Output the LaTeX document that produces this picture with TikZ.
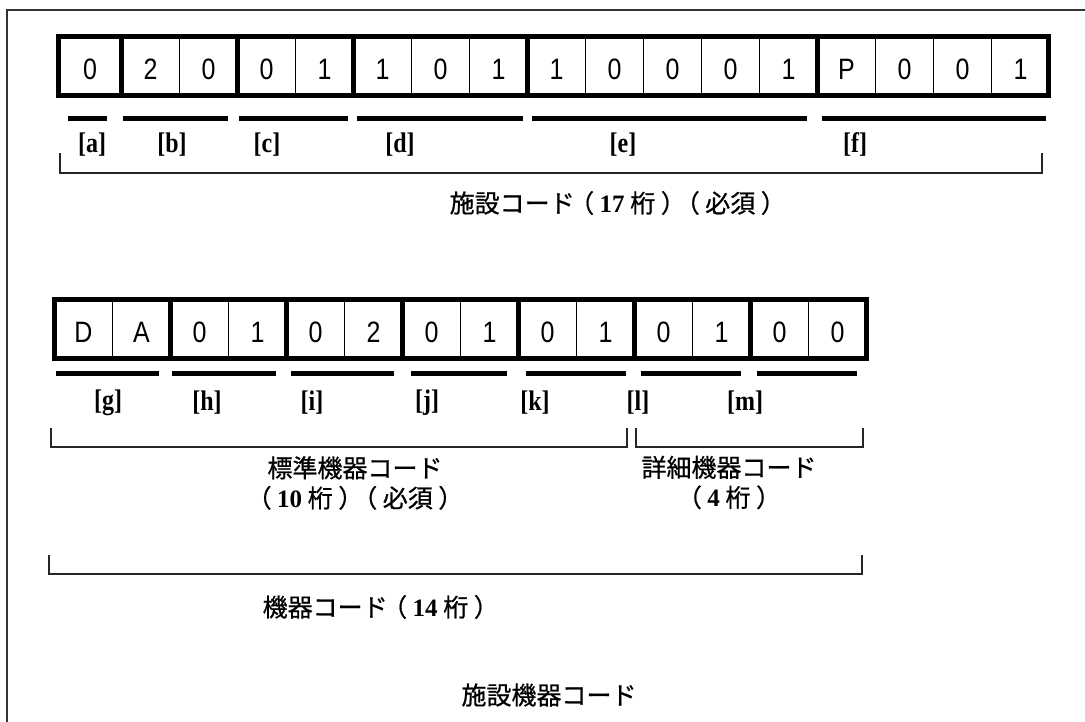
\documentclass[tikz,border=0pt]{standalone}
\usepackage{fontspec}
\usepackage{graphicx}
\setmainfont{Liberation Serif}
\newfontfamily\jp[FakeBold=0.7]{Noto Sans CJK JP}
\newfontfamily\dg{Liberation Sans}
\newcommand{\bn}[1]{{\rmfamily\bfseries #1}}
\newcommand{\lpar}{\hbox to 1em{\hskip-0.22em （\hss}}
\newcommand{\rpar}{\hbox to 1em{\hskip0.22em ）\hss}}
\newcommand{\tall}[1]{\scalebox{1}[1.18]{#1}}
\begin{document}
\begin{tikzpicture}[x=1pt,y=-1pt,
  frameline/.style={line width=2pt,draw=black!80},
  boxline/.style={line width=5pt,line join=miter},
  thinsep/.style={line width=1.5pt},
  thicksep/.style={line width=5pt},
  bar/.style={line width=5pt},
  brk/.style={line width=1.4pt,draw=black!85},
  digit/.style={font=\dg\fontsize{25}{25}\selectfont,anchor=base,inner sep=0pt},
  lbl/.style={font=\rmfamily\bfseries\fontsize{24}{24}\selectfont,inner sep=0pt},
  jt/.style={font=\jp\fontsize{25}{30}\selectfont,inner sep=0pt,align=center}]
\useasboundingbox (0,0) rectangle (1085,722);
\draw[frameline] (7,722) -- (7,10) -- (1085,10);

% ---- row 1 : facility code (17 digits)
\foreach \t [count=\i] in {0,2,0,0,1,1,0,1,1,0,0,0,1,P,0,0,1}{
  \pgfmathsetmacro\cx{\i==1 ? 90 : 92.5+58*(\i-1)}
  \node[digit] (a\i) at (\cx,80) {\tall{\t}};
}
\foreach \k in {1,...,16}{\draw[thinsep] (121.5+58*\k-58,37) -- (121.5+58*\k-58,96);}
\foreach \k in {1,3,5,8,13}{\draw[thicksep] (121.5+58*\k-58,37) -- (121.5+58*\k-58,96);}
\draw[boxline] (58.5,37) rectangle (1048,96);

\draw[bar] (68,118.5) -- (107,118.5);
\draw[bar] (123,118.5) -- (228,118.5);
\draw[bar] (239,118.5) -- (348,118.5);
\draw[bar] (357,118.5) -- (523,118.5);
\draw[bar] (532,118.5) -- (807,118.5);
\draw[bar] (822,118.5) -- (1046,118.5);

\node[lbl] (la) at (92,144.5) {\tall{[a]}};
\node[lbl] (lb) at (172,144.5) {\tall{[b]}};
\node[lbl] (lc) at (267,144.5) {\tall{[c]}};
\node[lbl] (ld) at (400,144.5) {\tall{[d]}};
\node[lbl] (le) at (623,144.5) {\tall{[e]}};
\node[lbl] (lf) at (855,144.5) {\tall{[f]}};

\draw[brk] (60,153) -- (60,173) -- (1042,173) -- (1042,153);
\node[jt] (t1) at (615,203) {施設コード\lpar\bn{17} 桁\rpar\lpar 必須\rpar};

% ---- row 2 : equipment code (14 digits)
\foreach \t [count=\i] in {D,A,0,1,0,2,0,1,0,1,0,1,0,0}{
  \node[digit] (b\i) at (83.5+58*\i-58,342) {\tall{\t}};
}
\foreach \k in {1,...,13}{\draw[thinsep] (54.5+58*\k,299.5) -- (54.5+58*\k,358);}
\foreach \k in {2,4,6,8,10,12}{\draw[thicksep] (54.5+58*\k,299.5) -- (54.5+58*\k,358);}
\draw[boxline] (54.5,299.5) rectangle (866,358);

\draw[bar] (56,373.5) -- (159,373.5);
\draw[bar] (172,373.5) -- (276,373.5);
\draw[bar] (291,373.5) -- (394,373.5);
\draw[bar] (411,373.5) -- (507,373.5);
\draw[bar] (526,373.5) -- (626,373.5);
\draw[bar] (641,373.5) -- (741,373.5);
\draw[bar] (757,373.5) -- (857,373.5);

\node[lbl] (lg) at (108,402.5) {\tall{[g]}};
\node[lbl] (lh) at (207,402.5) {\tall{[h]}};
\node[lbl] (li) at (312,402.5) {\tall{[i]}};
\node[lbl] (lj) at (427,402.5) {\tall{[j]}};
\node[lbl] (lk) at (535,402.5) {\tall{[k]}};
\node[lbl] (ll) at (638,402.5) {\tall{[l]}};
\node[lbl] (lm) at (745,402.5) {\tall{[m]}};

\draw[brk] (51,428) -- (51,447) -- (627,447) -- (627,428);
\draw[brk] (636,428) -- (636,447) -- (863,447) -- (863,428);
\node[jt] (t2) at (355,483) {標準機器コード\\\lpar\bn{10} 桁\rpar\lpar 必須\rpar};
\node[jt] (t3) at (729,482.5) {詳細機器コード\\\lpar\bn{4} 桁\rpar};

\draw[brk] (49,555) -- (49,574) -- (862,574) -- (862,555);
\node[jt] (t4) at (378,607) {機器コード\lpar\bn{14} 桁\rpar};

\node[jt] (t5) at (549,695) {施設機器コード};
\end{tikzpicture}
\end{document}
